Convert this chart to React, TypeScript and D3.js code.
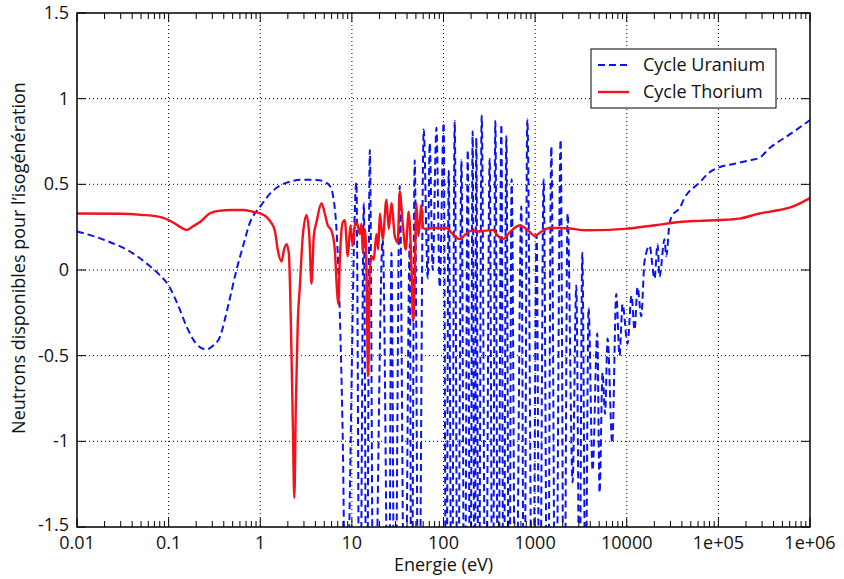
import React from "react";
import * as d3 from "d3";

// ---- data ----
const xTickValues = [0.01, 0.1, 1, 10, 100, 1000, 10000, 1e5, 1e6];
const xTickLabels = ["0.01", "0.1", "1", "10", "100", "1000", "10000", "1e+05", "1e+06"];
const yTickValues = [-1.5, -1, -0.5, 0, 0.5, 1, 1.5];
const yTickLabels = ["-1.5", "-1", "-0.5", "0", "0.5", "1", "1.5"];
const seriesNames = ["Cycle Uranium", "Cycle Thorium"];

// [energy eV, neutrons]
const uraniumCycle: [number, number][] = [
  [0.01, 0.225], [0.02, 0.175], [0.04, 0.1], [0.06, 0.03], [0.08, -0.03], [0.1, -0.09],
  [0.13, -0.22], [0.157, -0.33], [0.2, -0.43], [0.26, -0.464], [0.3, -0.445], [0.363, -0.39],
  [0.45, -0.2], [0.55, 0.0], [0.65, 0.14], [0.77, 0.275], [1.0, 0.37], [1.3, 0.45],
  [1.94, 0.51], [3.0, 0.527], [4.1, 0.526], [5.0, 0.515], [5.76, 0.49], [6.51, 0.36],
  [7.0, 0.1], [7.38, -0.25], [7.96, -1.0], [8.58, -2.2],
  [11.2, 0.51], [12.2, -2.5], [13.5, 0.39], [14.5, -2.5], [15.7, 0.7], [17.3, -2.5],
  [21.7, 0.18], [25.3, -2.5], [27.03, 0.1], [29.36, -2.5], [33.3, 0.49], [37.8, -2.5],
  [42.8, 0.15], [44.7, -2.5], [48.5, 0.64], [53.7, -2.5], [60.8, 0.82], [67.3, -0.05],
  [70.7, 0.74], [76.3, 0.0], [83.7, 0.83], [90.9, -0.1], [100.5, 0.86], [107, -2.5],
  [114, 0.58], [123, -2.5], [132.5, 0.87], [143, -2.5], [157, 0.64], [170, -2.5],
  [184, 0.7], [196, -2.5], [208, 0.81], [219, -2.5], [228, 0.77], [242, -2.5],
  [261, 0.9], [289, -2.5], [319, 0.65], [344, -2.5], [368, 0.87], [395, -2.5],
  [428, 0.85], [453, -2.5], [485, 0.78], [521, -2.5], [554, 0.53], [613, -2.5],
  [707, 0.37], [759, -2.5], [822, 0.88], [939, -2.5], [1039, 0.2], [1120, -2.5],
  [1238, 0.53], [1369, -2.5], [1502, 0.72], [1673, -2.5], [1897, 0.76], [2071, -2.5],
  [2262, 0.33], [2564, -1.24], [2813, -0.09], [3056, -2.0], [3271, 0.1], [3553, -2.0],
  [3832, -0.22], [4236, -1.17], [4769, -0.37], [5051, -1.3], [5447, -0.6], [5800, -0.84],
  [6175, -0.4], [6948, -1.01], [7681, -0.14], [8346, -0.5], [9000, -0.2], [10200, -0.43],
  [11280, -0.15], [12160, -0.35], [13120, -0.1], [14390, -0.27], [15640, 0.05], [17730, 0.14],
  [20100, -0.05], [21680, 0.15], [22790, -0.04], [25840, 0.18], [26960, 0.08], [29290, 0.27],
  [31600, 0.32], [37650, 0.36], [42650, 0.42], [62070, 0.51], [80000, 0.57], [102800, 0.6],
  [150000, 0.62], [218000, 0.64], [280500, 0.655], [360000, 0.71], [596000, 0.79], [1000000, 0.875],
];

const thoriumCycle: [number, number][] = [
  [0.01, 0.33], [0.03, 0.328], [0.05, 0.322], [0.08, 0.31], [0.11, 0.28], [0.135, 0.25],
  [0.157, 0.234], [0.185, 0.255], [0.22, 0.28], [0.28, 0.33], [0.35, 0.345], [0.5, 0.35],
  [0.65, 0.35], [0.83, 0.34], [1.0, 0.33], [1.17, 0.31], [1.3, 0.28], [1.443, 0.23],
  [1.55, 0.12], [1.707, 0.05], [1.82, 0.12], [1.935, 0.15], [2.05, 0.1], [2.157, -0.3],
  [2.268, -0.9], [2.354, -1.33], [2.444, -0.8], [2.57, -0.3], [2.703, -0.1], [2.915, 0.2],
  [3.199, 0.32], [3.43, 0.2], [3.627, -0.08], [3.842, 0.2], [4.111, 0.28], [4.661, 0.39],
  [5.06, 0.33], [5.46, 0.26], [5.99, 0.23], [6.51, 0.12], [6.85, -0.1], [7.11, -0.2],
  [7.38, 0.05], [7.7, 0.23], [8.0, 0.28], [8.37, 0.29], [9.02, 0.08], [9.65, 0.26],
  [10.23, 0.14], [10.89, 0.28], [11.6, 0.26], [12.2, 0.21], [12.73, 0.27], [13.15, 0.1],
  [13.82, 0.24], [14.43, 0.02], [15.02, -0.62], [15.7, 0.0], [16.36, 0.08], [17.3, 0.06],
  [18.55, 0.21], [19.4, 0.12], [20.2, 0.33], [21.7, 0.18], [23.84, 0.41], [25.3, 0.24],
  [27.03, 0.39], [29.36, 0.2], [31.66, 0.16], [33.3, 0.46], [35.9, 0.27], [38.7, 0.12],
  [41.7, 0.34], [44.7, 0.02], [46.5, -0.3], [48.5, -0.05], [50.6, 0.39], [53.0, 0.2],
  [55.0, 0.27], [57.1, 0.38], [59.8, 0.25], [62.4, 0.24], [80.2, 0.245], [107.5, 0.245],
  [126, 0.21], [150, 0.18], [175, 0.21], [201.5, 0.23], [238, 0.225], [289, 0.23],
  [347, 0.234], [390, 0.2], [446, 0.18], [527, 0.22], [678, 0.26], [808, 0.24],
  [988, 0.2], [1177, 0.225], [1439, 0.245], [1849, 0.245], [2377, 0.242], [3616, 0.232],
  [6487, 0.234], [10280, 0.242], [17730, 0.257], [22790, 0.265], [37650, 0.28], [62070, 0.287],
  [102800, 0.292], [169800, 0.3], [280500, 0.33], [463400, 0.35], [643000, 0.37], [1000000, 0.42],
];

const W = 844;
const H = 579;
const L = 77, R = 810, T = 13, B = 527;
const FONT = "'Open Sans', Lato, sans-serif";
const FS = 18;

export default function App() {
  const x = d3.scaleLog().domain([0.01, 1e6]).range([L, R]);
  const y = d3.scaleLinear().domain([-1.5, 1.5]).range([B, T]);
  const line = d3
    .line<[number, number]>()
    .x((d) => x(d[0]))
    .y((d) => y(d[1]))
    .curve(d3.curveMonotoneX);

  const minor: number[] = [];
  for (let e = -2; e < 6; e++) {
    for (let m = 2; m <= 9; m++) minor.push(m * Math.pow(10, e));
  }

  return (
    <svg
      width={W}
      height={H}
      style={{ position: "absolute", left: 0, top: 0, background: "#fff" }}
      fontFamily={FONT}
    >
      <defs>
        <clipPath id="plot">
          <rect x={L} y={T} width={R - L} height={B - T} />
        </clipPath>
      </defs>
      <rect x={0} y={0} width={W} height={H} fill="#fff" />
      {/* grid */}
      {xTickValues.slice(1, -1).map((v) => (
        <line key={"gx" + v} x1={x(v)} x2={x(v)} y1={T} y2={B} stroke="#000" strokeWidth={1} strokeDasharray="1,3" />
      ))}
      {yTickValues.slice(1, -1).map((v) => (
        <line key={"gy" + v} x1={L} x2={R} y1={y(v)} y2={y(v)} stroke="#000" strokeWidth={1} strokeDasharray="1,3" />
      ))}
      {/* series */}
      <g clipPath="url(#plot)">
        <path d={line(uraniumCycle) || ""} fill="none" stroke="#0a14f0" strokeWidth={2} strokeDasharray="7,4" />
        <path d={line(thoriumCycle) || ""} fill="none" stroke="#f5101a" strokeWidth={2.4} strokeLinejoin="round" />
      </g>
      {/* ticks */}
      {minor.map((v) => (
        <g key={"mt" + v}>
          <line x1={x(v)} x2={x(v)} y1={B} y2={B - 6} stroke="#000" strokeWidth={1} />
          <line x1={x(v)} x2={x(v)} y1={T} y2={T + 6} stroke="#000" strokeWidth={1} />
        </g>
      ))}
      {xTickValues.map((v) => (
        <g key={"xt" + v}>
          <line x1={x(v)} x2={x(v)} y1={B} y2={B - 9} stroke="#000" strokeWidth={1} />
          <line x1={x(v)} x2={x(v)} y1={T} y2={T + 9} stroke="#000" strokeWidth={1} />
        </g>
      ))}
      {yTickValues.map((v) => (
        <g key={"yt" + v}>
          <line x1={L} x2={L + 9} y1={y(v)} y2={y(v)} stroke="#000" strokeWidth={1} />
          <line x1={R} x2={R - 9} y1={y(v)} y2={y(v)} stroke="#000" strokeWidth={1} />
        </g>
      ))}
      <rect x={L} y={T} width={R - L} height={B - T} fill="none" stroke="#000" strokeWidth={1.5} />
      {/* tick labels */}
      {xTickValues.map((v, i) => (
        <text key={"xl" + v} x={x(v)} y={549} textAnchor="middle" fontSize={FS} fill="#111">
          {xTickLabels[i]}
        </text>
      ))}
      {yTickValues.map((v, i) => (
        <text key={"yl" + v} x={69} y={y(v) - (v === -1.5 ? 2 : 0)} dy="0.34em" textAnchor="end" fontSize={FS} fill="#111">
          {yTickLabels[i]}
        </text>
      ))}
      {/* axis titles */}
      <text x={(L + R) / 2} y={571} textAnchor="middle" fontSize={FS} fill="#111">
        Energie (eV)
      </text>
      <text
        transform={`translate(25, 258) rotate(-90)`}
        textAnchor="middle"
        fontSize={FS}
        fill="#111"
      >
        Neutrons disponibles pour l’isogénération
      </text>
      {/* legend */}
      <rect x={591} y={49} width={185} height={59} fill="#fff" stroke="#000" strokeWidth={1} />
      <line x1={598} x2={629} y1={65} y2={65} stroke="#0a14f0" strokeWidth={2} strokeDasharray="7,4" />
      <line x1={598} x2={629} y1={92} y2={92} stroke="#f5101a" strokeWidth={2.4} />
      <text x={643} y={65} dy="0.34em" fontSize={FS} fill="#111">{seriesNames[0]}</text>
      <text x={643} y={92} dy="0.34em" fontSize={FS} fill="#111">{seriesNames[1]}</text>
    </svg>
  );
}
